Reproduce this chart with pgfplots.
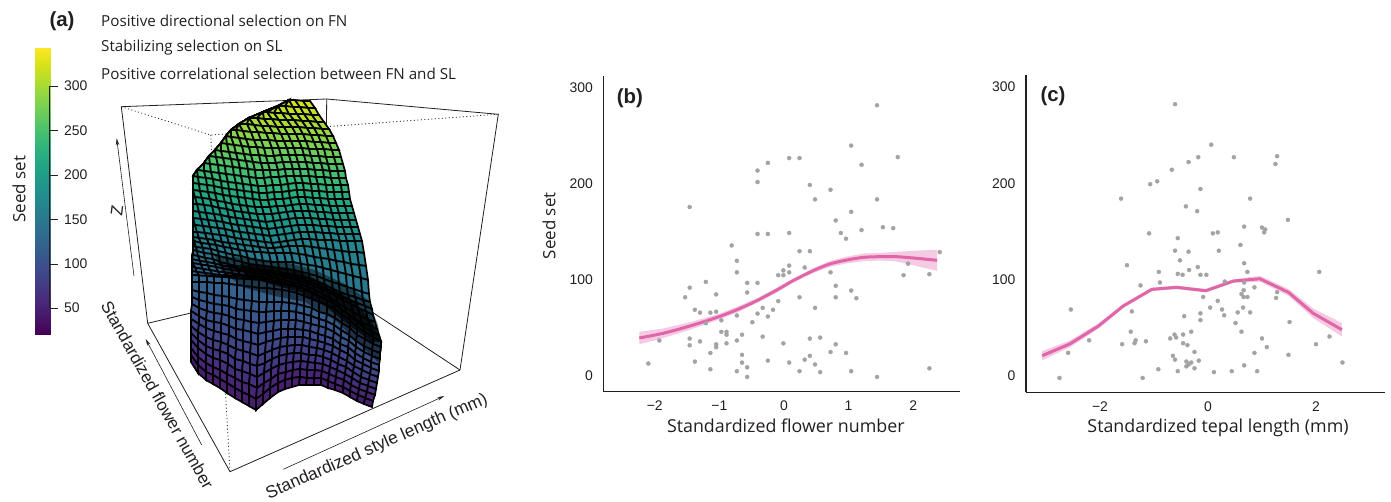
\documentclass[border=0pt]{standalone}
\usepackage{pgfplots}
\pgfplotsset{compat=1.18}
\usepackage{fontspec}
\setmainfont{Liberation Sans}
\newfontfamily\os{Open Sans}
\usetikzlibrary{arrows.meta}
\definecolor{ink}{HTML}{231F20}
\definecolor{ptg}{HTML}{A3A3A3}
\definecolor{pk}{HTML}{E066A8}
\definecolor{pkb}{HTML}{E680BC}
\newcommand{\fs}[1]{\fontsize{#1}{#1}\selectfont}
\pgfplotsset{
 panel/.style={scale only axis,axis x line*=bottom,axis y line*=left,
  axis line style={-,line width=1.1bp,color=ink},major tick length=0pt,
  tick label style={font=\fs{14},color=ink},clip=false,
  xticklabel style={yshift=-6bp},yticklabel style={xshift=-7bp}},
 sc/.style={only marks,mark=*,mark size=2bp,color=ptg,mark options={draw=none,fill=ptg}},
 bx/.style={color=ink,line width=0.8bp,no marks},
 dt/.style={color=ink,line width=0.8bp,no marks,dash pattern=on 1bp off 2.5bp},
 ar/.style={color=ink,line width=0.6bp,no marks,-{Stealth[length=7bp,width=3.5bp]}}
}
\begin{document}
\begin{tikzpicture}
\useasboundingbox (0,0) rectangle (1391bp,502bp);
\begin{axis}[at={(0,0)},anchor=south west,scale only axis,width=1391bp,height=502bp,
 xmin=0,xmax=1391,ymin=0,ymax=502,y dir=reverse,hide axis,clip=false,
 colormap name=viridis,point meta min=20.4,point meta max=342]
\addplot[surf,shader=interp,mesh/cols=2,point meta=explicit] coordinates {
(35.5,48.3) [342] (50,48.3) [342]
(35.5,334.3) [20.4] (50,334.3) [20.4]};
\addplot[bx] coordinates {(49.5,86) (49.5,308)};
\addplot[bx] coordinates {(49.5,86) (58,86)};
\addplot[bx] coordinates {(49.5,130.5) (58,130.5)};
\addplot[bx] coordinates {(49.5,175) (58,175)};
\addplot[bx] coordinates {(49.5,219.5) (58,219.5)};
\addplot[bx] coordinates {(49.5,264) (58,264)};
\addplot[bx] coordinates {(49.5,308) (58,308)};
\addplot[bx] coordinates {(121.3,106.7) (326.7,99) (498.3,114.3) (460,370) (230,471.7) (147.7,323.3) (121.3,106.7)};
\addplot[bx] coordinates {(147.7,323.3) (325,281) (460,370)};
\addplot[bx] coordinates {(326.7,99) (325,281)};
\addplot[dt] coordinates {(121.3,106.7) (210.7,135) (498.3,114.3)};
\addplot[dt] coordinates {(210.7,135) (230,471.7)};
\addplot[ar] coordinates {(134,276) (116.7,138.3)};
\addplot[ar] coordinates {(201.7,445) (145.7,339)};
\addplot[ar] coordinates {(283.3,469.3) (444.3,396)};
\addplot[surf,shader=faceted,faceted color=black,line width=1.7bp,mesh/cols=26,z buffer=none,point meta=explicit] table[x index=0,y index=1,meta index=2] {
289 100 325
289 100 325
289 100 325
289 100 325
289 100 325
289 100 325
289 100 325
289 100 325
289 100 325
289 100 325
289 100 325
289 100 325
289 100 325
289 100 325
289 100 325
289 100 325
289 100 325
289 100 325
289 100 325
289 100 325
289 100 325
289 100 325
289 100 325
295 100 325
303 101 325
310 101 325
278 106 318
278 106 318
278 106 318
278 106 318
278 106 318
278 106 318
278 106 318
278 106 318
278 106 318
278 106 318
278 106 318
278 106 318
278 106 318
278 106 318
278 106 318
278 106 318
278 106 318
278 106 318
278 106 318
278 106 318
278 106 318
285 106 318
293 107 318
300 107 318
308 108 318
315 108 318
263 112 311
263 112 311
263 112 311
263 112 311
263 112 311
263 112 311
263 112 311
263 112 311
263 112 311
263 112 311
263 112 311
263 112 311
263 112 311
263 112 311
263 112 311
263 112 311
263 112 311
263 112 311
267 112 311
274 113 311
282 113 311
289 114 311
297 114 311
304 114 311
312 115 311
319 115 311
249 118 304
249 118 304
249 118 304
249 118 304
249 118 304
249 118 304
249 118 304
249 118 304
249 118 304
249 118 304
249 118 304
249 118 304
249 118 304
249 118 304
249 118 304
249 118 304
257 118 304
264 119 304
272 119 304
279 120 304
287 120 304
294 120 304
302 121 304
309 121 304
317 122 304
324 122 304
239 124 297
239 124 297
239 124 297
239 124 297
239 124 297
239 124 297
239 124 297
239 124 297
239 124 297
239 124 297
239 124 297
239 124 297
239 124 297
239 124 297
247 124 297
254 125 297
262 126 297
269 126 297
277 127 297
284 127 297
292 127 297
299 127 297
307 128 297
314 128 297
322 129 297
329 129 297
231 130 290
231 130 290
231 130 290
231 130 290
231 130 290
231 130 290
231 130 290
231 130 290
231 130 290
231 130 290
231 130 290
231 130 290
236 130 290
243 131 290
251 132 290
258 132 290
266 133 290
273 133 290
281 134 290
288 134 290
296 134 290
303 134 290
311 135 290
318 135 290
326 136 290
333 136 290
226 136 282
226 136 282
226 136 282
226 136 282
226 136 282
226 136 282
226 136 282
226 136 282
226 136 282
226 136 282
226 136 282
231 137 282
239 138 282
246 139 282
254 140 282
261 140 282
269 140 282
276 141 282
284 141 282
291 141 282
299 141 282
306 141 282
314 142 282
321 142 282
329 143 282
336 143 282
221 143 274
221 143 274
221 143 274
221 143 274
221 143 274
221 143 274
221 143 274
221 143 274
221 143 274
221 143 274
227 144 274
234 145 274
242 146 274
249 147 274
257 147 274
264 148 274
272 148 274
279 148 274
287 148 274
294 148 274
302 148 274
309 149 274
317 149 274
324 149 274
332 150 274
339 150 274
215 150 266
215 150 266
215 150 266
215 150 266
215 150 266
215 150 266
215 150 266
215 150 266
215 150 266
221 151 266
229 152 266
236 153 266
244 154 266
251 155 266
259 155 266
266 156 266
274 156 266
281 155 266
289 155 266
296 155 266
304 155 266
311 156 266
319 156 266
326 157 266
334 157 266
341 157 266
209 156 258
209 156 258
209 156 258
209 156 258
209 156 258
209 156 258
209 156 258
209 156 258
216 157 258
223 158 258
231 159 258
238 160 258
246 161 258
253 162 258
261 163 258
268 163 258
276 163 258
283 162 258
291 162 258
298 162 258
306 162 258
313 163 258
321 163 258
328 164 258
336 164 258
343 164 258
204 163 250
204 163 250
204 163 250
204 163 250
204 163 250
204 163 250
204 163 250
210 164 250
218 165 250
225 166 250
233 167 250
240 168 250
248 169 250
255 170 250
263 170 250
270 170 250
278 170 250
285 169 250
293 169 250
300 169 250
308 169 250
315 170 250
323 170 250
330 171 250
338 171 250
345 171 250
197 170 242
197 170 242
197 170 242
197 170 242
197 170 242
197 170 242
204 171 242
211 172 242
219 173 242
226 174 242
234 175 242
241 176 242
249 177 242
256 178 242
264 178 242
271 177 242
279 177 242
286 176 242
294 176 242
301 176 242
309 176 242
316 177 242
324 177 242
331 178 242
339 178 242
346 178 242
193 176 234
193 176 234
193 176 234
193 176 234
193 176 234
198 177 234
206 178 234
213 179 234
221 181 234
228 182 234
236 183 234
243 184 234
251 185 234
258 186 234
266 186 234
273 185 234
281 185 234
288 184 234
296 183 234
303 183 234
311 184 234
318 184 234
326 185 234
333 185 234
341 185 234
348 185 234
193 183 226
193 183 226
193 183 226
193 183 226
193 183 226
199 184 226
207 185 226
214 186 226
222 188 226
229 189 226
237 190 226
244 191 226
252 192 226
259 193 226
267 193 226
274 192 226
282 192 226
289 191 226
297 190 226
304 190 226
312 191 226
319 191 226
327 192 226
334 192 226
342 192 226
349 192 226
193 190 218
193 190 218
193 190 218
193 190 218
193 190 218
200 191 218
208 192 218
215 193 218
223 195 218
230 196 218
238 197 218
245 198 218
253 199 218
260 200 218
268 200 218
275 199 218
283 199 218
290 198 218
298 197 218
305 197 218
313 198 218
320 198 218
328 199 218
335 199 218
343 199 218
350 199 218
193 197 210
193 197 210
193 197 210
193 197 210
195 197 210
202 198 210
210 199 210
217 201 210
225 202 210
232 204 210
240 205 210
247 206 210
255 207 210
262 207 210
270 207 210
277 206 210
285 206 210
292 205 210
300 204 210
307 204 210
315 205 210
322 205 210
330 206 210
337 206 210
345 206 210
352 206 210
193 204 202
193 204 202
193 204 202
193 204 202
197 204 202
204 205 202
212 206 202
219 208 202
227 209 202
234 211 202
242 212 202
249 213 202
257 214 202
264 214 202
272 214 202
279 213 202
287 212 202
294 211 202
302 211 202
309 211 202
317 212 202
324 212 202
332 213 202
339 213 202
347 213 202
354 213 202
193 211 194
193 211 194
193 211 194
193 211 194
199 212 194
206 213 194
214 214 194
221 215 194
229 217 194
236 218 194
244 219 194
251 220 194
259 221 194
266 222 194
274 221 194
281 220 194
289 219 194
296 218 194
304 218 194
311 218 194
319 219 194
326 219 194
334 220 194
341 220 194
349 220 194
356 220 194
193 218 186
193 218 186
193 218 186
193 218 186
201 219 186
208 220 186
216 221 186
223 222 186
231 224 186
238 225 186
246 226 186
253 227 186
261 228 186
268 229 186
276 228 186
283 227 186
291 226 186
298 225 186
306 225 186
313 225 186
321 226 186
328 226 186
336 227 186
343 227 186
351 227 186
358 227 186
193 225 178
193 225 178
193 225 178
195 225 178
203 226 178
210 227 178
218 228 178
225 229 178
233 231 178
240 232 178
248 233 178
255 234 178
263 235 178
270 236 178
278 235 178
285 234 178
293 233 178
300 232 178
308 232 178
315 232 178
323 233 178
330 233 178
338 234 178
345 234 178
353 234 178
360 234 178
193 232 170
193 232 170
193 232 170
197 232 170
205 233 170
212 234 170
220 235 170
227 236 170
235 238 170
242 239 170
250 240 170
257 241 170
265 242 170
272 243 170
280 242 170
287 241 170
295 240 170
302 239 170
310 239 170
317 240 170
325 240 170
332 240 170
340 241 170
347 241 170
355 241 170
362 241 170
193 237 163
193 237 163
193 237 163
199 238 163
207 239 163
214 240 163
222 242 163
229 243 163
237 244 163
244 245 163
252 246 163
259 247 163
267 248 163
274 248 163
282 247 163
289 246 163
297 246 163
304 246 163
312 247 163
319 248 163
327 249 163
334 250 163
342 251 163
349 252 163
357 252 163
364 253 163
193 241 156
193 241 156
194 241 156
201 243 156
209 244 156
216 245 156
224 247 156
231 248 156
239 250 156
246 251 156
254 252 156
261 252 156
269 253 156
276 253 156
284 253 156
291 253 156
299 254 156
306 255 156
314 257 156
321 258 156
329 259 156
336 261 156
344 262 156
351 264 156
359 265 156
366 266 156
193 246 150
193 246 150
196 247 150
203 248 150
211 249 150
218 251 150
226 253 150
233 255 150
241 256 150
248 258 150
256 260 150
263 261 150
271 262 150
278 262 150
286 262 150
293 262 150
301 264 150
308 265 150
316 266 150
323 268 150
331 270 150
338 272 150
346 274 150
353 276 150
361 278 150
368 280 150
193 250 145
193 250 145
197 251 145
204 253 145
212 254 145
219 256 145
227 258 145
234 260 145
242 262 145
249 264 145
257 265 145
264 266 145
272 267 145
279 268 145
287 269 145
294 270 145
302 272 145
309 274 145
317 276 145
324 279 145
332 282 145
339 284 145
347 287 145
354 289 145
362 292 145
369 294 145
193 255 141
193 255 141
198 256 141
205 258 141
213 259 141
220 262 141
228 264 141
235 266 141
243 267 141
250 268 141
258 269 141
265 270 141
273 271 141
280 272 141
288 274 141
295 275 141
303 277 141
310 279 141
318 282 141
325 285 141
333 289 141
340 292 141
348 295 141
355 297 141
363 300 141
370 302 141
192 259 139
192 259 139
200 261 139
207 262 139
215 263.5 139
222 265.5 139
230 267 139
237 268.5 139
245 270 139
252 270.5 139
260 271.5 139
267 272 139
275 273.5 139
282 274.5 139
290 276.5 139
297 278 139
305 280 139
312 282.5 139
320 286 139
327 289 139
335 293 139
342 297 139
350 300 139
357 303 139
365 306 139
372 309 139
192 263 136
193 263 136
201 264.5 136
208 265.5 136
216 267 136
223 268.5 136
231 270 136
238 271 136
246 272 136
253 273 136
261 274 136
268 274.5 136
276 276 136
283 277 136
291 279 136
298 280.5 136
306 283 136
313 285.5 136
321 289 136
328 292 136
336 296 136
343 300.5 136
351 304 136
358 308 136
366 311.5 136
373 315 136
192 267 133
195 267.5 133
203 269 133
210 270 133
218 271.5 133
225 272.5 133
233 273.5 133
240 274.5 133
248 275.5 133
255 276 133
263 277 133
270 277.5 133
278 279 133
285 280.5 133
293 282.5 133
300 284 133
308 287 133
315 290 133
323 294 133
330 298 133
338 303 133
345 307.5 133
353 312 133
360 316 133
368 319.5 133
375 322 133
192 271 130
197 272 130
205 273 130
212 274 130
220 275 130
227 275.5 130
235 276 130
242 276.5 130
250 277.5 130
257 278.5 130
265 279 130
272 280.5 130
280 282 130
287 284 130
295 285.5 130
302 288 130
310 291 130
317 295 130
325 299 130
332 303 130
340 308.5 130
347 313.5 130
355 319 130
362 323 130
370 326 130
377 329 130
192 275 128
199 275.5 128
207 276 128
214 276.5 128
222 277 128
229 277.5 128
237 278.5 128
244 279 128
252 279.5 128
259 280 128
267 281 128
274 282.5 128
282 284 128
289 285.5 128
297 287 128
304 290 128
312 293 128
319 297 128
327 300 128
334 304 128
342 310 128
349 315 128
357 322 128
364 327 128
372 332 128
379 335 128
192 282 122
199 282 122
207 282 122
214 283 122
222 283 122
229 284 122
237 285 122
244 286 122
252 287 122
259 288 122
267 288 122
274 289 122
282 290 122
289 291 122
297 293 122
304 296 122
312 299 122
319 302 122
327 305 122
335 309 122
342 315 122
350 320 122
357 327 122
365 332 122
373 337 122
381 341 122
192 290 116
199 292 116
207 293 116
214 295 116
222 296 116
229 297 116
237 299 116
244 300 116
252 301 116
259 302 116
267 302 116
274 302 116
282 302 116
289 303 116
297 304 116
304 306 116
312 308 116
319 312 116
327 314 116
335 318 116
342 323 116
350 328 116
357 335 116
365 339 116
373 344 116
381 347 116
192 297 110
199 300 110
207 302 110
214 304 110
222 305 110
229 306 110
236 309 110
244 310 110
251 311 110
259 312 110
266 312 110
274 311 110
281 311 110
289 311 110
296 312 110
304 314 110
311 316 110
319 319 110
326 321 110
334 325 110
341 330 110
349 335 110
356 341 110
364 346 110
372 350 110
380 353 110
192 304 104
199 308 104
207 311 104
214 313 104
222 314 104
229 316 104
236 319 104
244 320 104
251 322 104
259 323 104
266 322 104
274 321 104
281 320 104
289 320 104
296 320 104
304 322 104
311 324 104
319 326 104
326 328 104
334 332 104
341 337 104
349 341 104
356 347 104
364 352 104
372 356 104
380 359 104
191 311 97
199 316 97
206 320 97
214 322 97
221 323 97
229 326 97
236 329 97
243 330 97
251 332 97
258 334 97
266 332 97
273 331 97
281 329 97
288 329 97
295 329 97
303 330 97
310 331 97
318 334 97
325 336 97
333 339 97
340 344 97
348 347 97
355 353 97
363 358 97
371 362 97
379 365 97
191 319 91
199 324 91
206 328 91
214 331 91
221 333 91
229 335 91
236 339 91
243 341 91
251 343 91
258 345 91
266 342 91
273 340 91
281 338 91
288 337 91
295 337 91
303 337 91
310 339 91
318 341 91
325 343 91
333 346 91
340 350 91
348 354 91
355 360 91
363 364 91
371 368 91
379 371 91
191 326 84
198 332 84
206 337 84
213 340 84
221 342 84
228 345 84
236 349 84
243 351 84
250 353 84
258 356 84
265 353 84
272 350 84
280 347 84
287 346 84
295 345 84
302 345 84
309 347 84
317 348 84
324 350 84
332 353 84
339 357 84
347 361 84
354 366 84
362 370 84
370 374 84
378 377 84
191 333 77
198 340 77
206 346 77
213 349 77
220 351 77
228 354 77
235 359 77
243 361 77
250 364 77
257 366 77
265 363 77
272 359 77
279 356 77
287 354 77
294 353 77
301 353 77
309 355 77
316 355 77
323 357 77
331 360 77
338 364 77
346 367 77
353 372 77
361 377 77
369 380 77
377 383 77
191 340 68
198 348 68
206 354 68
213 358 68
220 360 68
228 364 68
235 369 68
242 371 68
250 374 68
257 377 68
264 373 68
271 369 68
279 365 68
286 363 68
293 362 68
301 361 68
308 362 68
315 363 68
323 364 68
330 367 68
337 370 68
345 374 68
352 378 68
360 383 68
368 386 68
376 389 68
191 348 59
198 357 59
206 363 59
213 367 59
220 370 59
227 374 59
235 378 59
242 382 59
249 384 59
257 388 59
264 383 59
271 379 59
278 374 59
286 372 59
293 370 59
300 369 59
307 370 59
315 370 59
322 371 59
329 374 59
336 377 59
344 380 59
351 385 59
359 389 59
367 392 59
375 395 59
191 355 50
198 365 50
206 372 50
213 375 50
220 379 50
227 383 50
235 388 50
242 392 50
249 395 50
256 399 50
263 394 50
270 388 50
278 383 50
285 380 50
292 378 50
300 377 50
307 378 50
314 378 50
321 378 50
328 381 50
335 384 50
343 387 50
350 391 50
358 395 50
365 398 50
373 401 50
191 362 42
198 373 42
206 380 42
213 384 42
220 388 42
227 393 42
235 398 42
242 402 42
249 406 42
256 410 42
263 404 42
270 398 42
278 392 42
285 389 42
292 387 42
299 385 42
306 385 42
314 385 42
321 385 42
328 388 42
335 390 42
343 393 42
350 397 42
357 401 42
364 404 42
372 407 42
};
\addplot[fill=black,fill opacity=.45,draw=none] coordinates {
(215,256) (250,258) (285,262) (315,270) (345,284) (368,300) (378,325) (382,350) (378,362) (360,345) (335,320) (305,302) (275,296) (245,288) (222,272)} -- cycle;
\addplot[fill=black,fill opacity=.75,draw=none] coordinates {
(240,264) (270,266) (300,272) (330,286) (355,302) (372,322) (381,342) (372,342) (350,326) (325,306) (300,292) (270,284) (245,276)} -- cycle;
\node[font=\bfseries\fs{20.5},color=ink] at (axis cs:62,21) {(a)};
\node[font=\os\fs{15.25},color=ink,anchor=west,inner sep=0pt] at (axis cs:101,21) {Positive directional selection on FN};
\node[font=\os\fs{15.25},color=ink,anchor=west,inner sep=0pt] at (axis cs:101,47.5) {Stabilizing selection on SL};
\node[font=\os\fs{15.25},color=ink,anchor=west,inner sep=0pt] at (axis cs:101,73.5) {Positive correlational selection between FN and SL};
\node[font=\os\fs{17},color=ink,rotate=90] at (axis cs:19,189) {Seed set};
\node[font=\fs{14},color=ink,anchor=west,inner sep=0pt] at (axis cs:64,86) {300};
\node[font=\fs{14},color=ink,anchor=west,inner sep=0pt] at (axis cs:64,130.5) {250};
\node[font=\fs{14},color=ink,anchor=west,inner sep=0pt] at (axis cs:64,175) {200};
\node[font=\fs{14},color=ink,anchor=west,inner sep=0pt] at (axis cs:64,219.5) {150};
\node[font=\fs{14},color=ink,anchor=west,inner sep=0pt] at (axis cs:64,264) {100};
\node[font=\fs{14},color=ink,anchor=west,inner sep=0pt] at (axis cs:64,308) {50};
\node[font=\fs{17},color=ink,rotate=83] at (axis cs:117,211) {Z};
\node[font=\fs{17},color=ink,rotate=-60.7] at (axis cs:157.5,395) {Standardized flower number};
\node[font=\fs{17.4},color=ink,rotate=23.7] at (axis cs:377,447) {Standardized style length (mm)};
\end{axis}
\begin{axis}[panel,at={(603.3bp,110.3bp)},anchor=south west,width=356.7bp,height=315.7bp,
 xmin=-2.797,xmax=2.724,ymin=-16.35,ymax=312.5,
 xtick={-2,-1,0,1,2},xticklabels={−2,−1,0,1,2},ytick={0,100,200,300},yticklabels={0,100,200,300},
 xlabel={\os\fs{17.9}Standardized flower number},ylabel={\os\fs{17}Seed set},
 x label style={at={(axis description cs:0.5116,-0.1087)},anchor=center,color=ink},
 y label style={at={(axis description cs:-0.152,0.5255)},anchor=center,color=ink}]
\addplot[sc] table {
1.44 282
1.04 240
1.76 228
0.08 227
0.24 227
-0.25 222
1.20 220
-0.41 214
-0.41 202
0.40 199
0.72 194
0.48 184
1.44 184
-1.46 176
1.04 171
0.80 162
1.53 155
1.69 154
1.20 152
0.88 149
0.96 143
-0.41 148
-0.25 148
0.08 149
-0.81 136
0.24 130
0.40 130
2.41 129
-0.73 120
1.92 117
0.08 115
0.32 113
-0.01 110
-0.73 108
0.08 108
0.72 108
-0.09 105
-0.01 105
1.85 105
2.25 106
-1.21 98
-0.57 97
-0.41 97
-1.46 92
0.80 94
-0.57 87
1.04 89
-1.05 85
-1.53 82
0.24 82
0.80 82
1.12 81
-0.09 78
-0.33 71
0.48 71
-1.38 69
-0.17 69
-1.30 66
-1.14 66
-1.05 67
-0.41 65
-0.73 63
-0.25 62
-0.97 58
-1.21 55
-0.49 56
-0.97 46
-0.89 46
-0.89 43
-0.65 43
-0.33 41
-1.46 39
0.40 39
0.56 40
-1.93 37
-1.30 36
-0.73 37
-1.05 33
-0.89 34
-0.01 34
0.80 33
-1.46 32
-1.05 30
-1.14 24
0.72 25
0.96 24
-0.65 22
0.40 21
0.32 17
-1.38 15
-0.25 16
-0.65 14
0.08 14
-2.10 13
0.48 12
-0.57 9
2.25 8
-1.14 7
-0.73 5
0.24 5
1.04 5
0.56 4
-0.57 -1
1.44 -1
};
\addplot[fill=pkb,fill opacity=.42,draw=none] coordinates {
(-2.24,46) (-1.87,49.5) (-1.46,56) (-1.04,64) (-0.73,72) (-0.42,81) (-0.11,92) (0.14,101.3) (0.45,112.2) (0.71,119.7) (0.97,124.3) (1.23,127.6) (1.49,128.3) (1.74,129.3) (2.05,130.6) (2.37,131.5)
(2.37,109.5) (2.05,114.6) (1.74,119.3) (1.49,120.3) (1.23,119.6) (0.97,117.3) (0.71,113.7) (0.45,107.2) (0.14,97.3) (-0.11,87) (-0.42,76) (-0.73,66) (-1.04,58) (-1.46,48) (-1.87,39.5) (-2.24,33)} -- cycle;
\addplot[color=pk,line width=3bp,no marks,smooth] coordinates {
(-2.24,39.6) (-1.87,44.5) (-1.46,52) (-1.04,61) (-0.73,69) (-0.42,78.5) (-0.11,89.6) (0.14,99.3) (0.45,109.7) (0.71,116.7) (0.97,120.8) (1.23,123.6) (1.49,124.3) (1.74,124.3) (2.05,122.6) (2.37,120.5)};
\node[font=\bfseries\fs{20.5},color=ink] at (axis cs:-2.385,289.6) {(b)};
\end{axis}
\begin{axis}[panel,at={(1026bp,109.7bp)},anchor=south west,width=359bp,height=317.6bp,
 xmin=-3.37,xmax=3.278,ymin=-16.9,ymax=312.6,
 xtick={-2,0,2},xticklabels={−2,0,2},ytick={0,100,200,300},yticklabels={0,100,200,300},
 xlabel={\os\fs{17.9}Standardized tepal length (mm)},
 x label style={at={(axis description cs:0.535,-0.1124)},anchor=center,color=ink}]
\addplot[sc] table {
-.61 282
.06 240
1.28 228
-.18 227
.48 227
-.36 222
1.25 220
-.67 214
-.94 202
-1.07 199
-.14 194
-1.61 184
.78 184
-.41 176
-.20 171
1.48 162
.67 155
1.0 154
1.06 152
1.04 149
-1.09 148
.09 148
.18 149
-.56 143
.60 136
-.61 130
-.36 129
.20 130
-.52 120
-1.5 115
.67 117
-.19 113
-.35 110
-.91 108
.73 108
2.06 108
-.56 106
-.47 105
-.14 105
-.03 105
-.89 97
.31 98
.67 97
-1.25 94
.86 92
.66 89
1.28 87
.62 85
.66 82
.73 82
-.09 82
1.26 81
.18 78
.04 71
.65 71
.26 69
-1.41 67
.55 66
.78 66
-.14 65
-.44 62
.30 63
-.14 58
.51 55
1.51 56
-1.43 46
-.31 46
.62 46
-.62 43
-.46 43
-.70 39
-.59 40
1.0 39
2.25 41
-1.34 37
-1.15 36
-1.36 34
-1.59 33
-.46 34
-.38 32
2.0 33
1.09 30
-2.59 24
-.25 25
.86 24
-.65 21
1.49 22
-.61 17
-.17 16
-.40 15
-.31 14
2.49 14
-.36 12
-.40 10
-.25 8
.67 11
-.92 7
-.56 5
.11 4
.44 5
.91 5
-2.75 -2
-1.21 -2
-2.54 69
-2.2 37
};
\addplot[fill=pkb,fill opacity=.42,draw=none] coordinates {
(-3.07,25.9) (-2.56,36.7) (-2.03,54.6) (-1.57,74.6) (-1.04,91.7) (-.58,93.8) (-.04,90.3) (.47,100.3) (.96,103.9) (1.49,90.3) (1.95,70) (2.48,55)
(2.48,41) (1.95,60) (1.49,83.3) (.96,97.9) (.47,96.7) (-.04,86.7) (-.58,90.2) (-1.04,88.1) (-1.57,70.6) (-2.03,49) (-2.56,29.7) (-3.07,16.3)} -- cycle;
\addplot[color=pk,line width=3bp,no marks] coordinates {
(-3.07,21.1) (-2.56,33.2) (-2.03,51.8) (-1.57,72.6) (-1.04,89.9) (-.58,92) (-.04,88.5) (.47,98.5) (.96,100.9) (1.49,86.8) (1.95,65) (2.48,48)};
\node[font=\bfseries\fs{20.5},color=ink] at (axis cs:-2.87,290) {(c)};
\end{axis}
\end{tikzpicture}
\end{document}
